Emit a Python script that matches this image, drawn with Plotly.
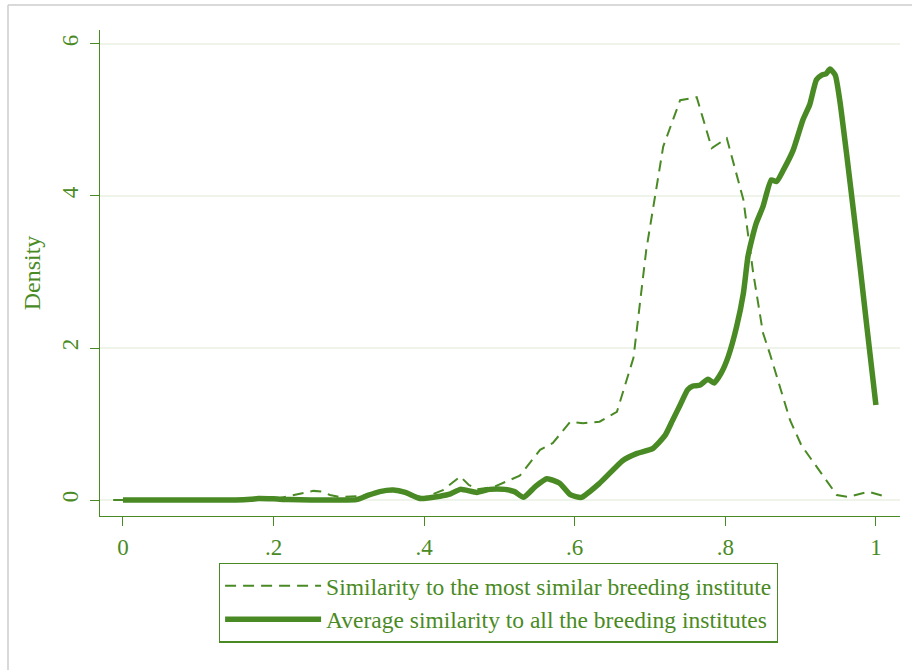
import plotly.graph_objects as go

# Kernel density: similarity to the most similar breeding institute
most_x = [-0.013, 0.0, 0.05, 0.1, 0.15, 0.2, 0.226, 0.253, 0.264, 0.275, 0.288, 0.312,
          0.33, 0.355, 0.38, 0.40, 0.425, 0.448, 0.459, 0.47, 0.492, 0.527, 0.554,
          0.571, 0.594, 0.611, 0.633, 0.656, 0.678, 0.695, 0.7175, 0.74, 0.762,
          0.782, 0.802, 0.824, 0.837, 0.85, 0.859, 0.886, 0.901, 0.941, 0.948,
          0.963, 0.99, 1.015]
most_y = [0.0, 0.0, 0.0, 0.0, 0.005, 0.01, 0.066, 0.12, 0.11, 0.066, 0.04, 0.05,
          0.08, 0.12, 0.08, 0.03, 0.13, 0.31, 0.2, 0.14, 0.17, 0.32, 0.66,
          0.75, 1.03, 1.01, 1.03, 1.16, 1.87, 3.29, 4.65, 5.26, 5.30,
          4.63, 4.76, 3.95, 2.99, 2.2, 1.93, 1.05, 0.72, 0.15, 0.066,
          0.04, 0.11, 0.04]

# Kernel density: average similarity to all the breeding institutes
avg_x = [0.0, 0.05, 0.1, 0.15, 0.17, 0.18, 0.2, 0.22, 0.25, 0.28, 0.31, 0.325,
         0.341, 0.359, 0.375, 0.394, 0.421, 0.435, 0.448, 0.47, 0.487, 0.507,
         0.52, 0.532, 0.548, 0.563, 0.58, 0.594, 0.609, 0.633, 0.664, 0.682,
         0.704, 0.72, 0.73, 0.74, 0.75, 0.757, 0.766, 0.777, 0.785, 0.795,
         0.804, 0.815, 0.824, 0.830, 0.835, 0.841, 0.85, 0.861, 0.868, 0.877,
         0.89, 0.903, 0.912, 0.921, 0.928, 0.934, 0.939, 0.946, 0.952, 0.961,
         0.97, 0.979, 0.988, 1.0]
avg_y = [0.0, 0.0, 0.0, 0.0, 0.01, 0.02, 0.015, 0.005, 0.0, 0.0, 0.005, 0.06,
         0.11, 0.13, 0.1, 0.02, 0.05, 0.08, 0.14, 0.1, 0.14, 0.14,
         0.11, 0.035, 0.18, 0.28, 0.22, 0.07, 0.035, 0.22, 0.52, 0.61,
         0.68, 0.85, 1.05, 1.25, 1.45, 1.5, 1.51, 1.59, 1.54, 1.68,
         1.89, 2.28, 2.72, 3.2, 3.42, 3.64, 3.86, 4.21, 4.19, 4.34,
         4.6, 5.0, 5.2, 5.53, 5.59, 5.61, 5.67, 5.59, 5.26, 4.56,
         3.82, 3.07, 2.28, 1.25]

x_ticks = [0, 0.2, 0.4, 0.6, 0.8, 1.0]
x_tick_labels = ["0", ".2", ".4", ".6", ".8", "1"]
y_ticks = [0, 2, 4, 6]
y_tick_labels = ["0", "2", "4", "6"]

GREEN = "#4a8a24"
FONT = "Liberation Serif"

fig = go.Figure()
fig.add_trace(go.Scatter(
    x=most_x, y=most_y, mode="lines",
    name="Similarity to the most similar breeding institute",
    line=dict(color=GREEN, width=2, dash="11px,7px"),
))
fig.add_trace(go.Scatter(
    x=avg_x, y=avg_y, mode="lines",
    name="Average similarity to all the breeding institutes",
    line=dict(color=GREEN, width=5.5, shape="spline", smoothing=0.5),
))

# outer graph frame (top and left edges)
frame = dict(color="#cccccc", width=1.5)
fig.add_shape(type="line", xref="paper", yref="paper",
              x0=-0.115, x1=-0.115, y0=1.0514, y1=-0.33, line=frame)
fig.add_shape(type="line", xref="paper", yref="paper",
              x0=-0.115, x1=1.03, y0=1.0514, y1=1.0514, line=frame)

fig.update_layout(
    width=912, height=670,
    margin=dict(l=100, r=12, t=30, b=154),
    paper_bgcolor="white", plot_bgcolor="white",
    font=dict(family=FONT, color=GREEN, size=22),
    showlegend=True,
    legend=dict(
        x=0.498, y=-0.096, xanchor="center", yanchor="top",
        orientation="v",
        bordercolor=GREEN, borderwidth=1.2,
        font=dict(family=FONT, size=23.5, color=GREEN),
        itemwidth=96,
        tracegroupgap=0,
    ),
    xaxis=dict(
        range=[-0.0305, 1.032],
        tickvals=x_ticks, ticktext=x_tick_labels,
        ticks="outside", ticklen=9, tickcolor=GREEN, tickwidth=1,
        showline=True, linecolor=GREEN, linewidth=1.2,
        showgrid=False, zeroline=False,
        ticklabelstandoff=1,
        tickfont=dict(family=FONT, size=23, color=GREEN),
    ),
    yaxis=dict(
        range=[-0.2105, 6.184],
        tickvals=y_ticks, ticktext=y_tick_labels,
        tickangle=-90,
        ticks="outside", ticklen=9, tickcolor=GREEN, tickwidth=1,
        showline=True, linecolor=GREEN, linewidth=1.2,
        showgrid=True, gridcolor="#eef4ea", gridwidth=1.5,
        zeroline=False,
        ticklabelstandoff=3,
        tickfont=dict(family=FONT, size=23, color=GREEN),
        title=dict(text="Density", standoff=10,
                   font=dict(family=FONT, size=24, color=GREEN)),
    ),
)

fig.write_html("out.html")
